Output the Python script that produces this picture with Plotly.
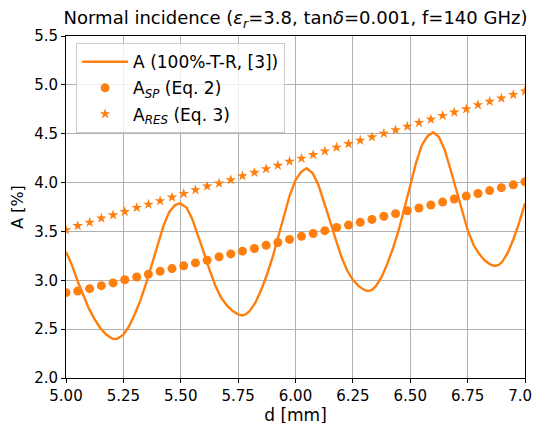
import plotly.graph_objects as go

# Oscillating absorption curve A (100%-T-R)
d_curve = [5.000, 5.025, 5.050, 5.075, 5.100, 5.125, 5.150, 5.175, 5.200, 5.212,
           5.225, 5.250, 5.275, 5.300, 5.325, 5.350, 5.375, 5.400, 5.425, 5.450,
           5.475, 5.497, 5.525, 5.550, 5.575, 5.600, 5.625, 5.650, 5.675, 5.700,
           5.725, 5.750, 5.766, 5.783, 5.800, 5.825, 5.850, 5.875, 5.900, 5.925,
           5.950, 5.975, 6.000, 6.025, 6.048, 6.075, 6.100, 6.125, 6.150, 6.175,
           6.200, 6.225, 6.250, 6.275, 6.300, 6.316, 6.333, 6.350, 6.375, 6.400,
           6.425, 6.450, 6.475, 6.500, 6.525, 6.550, 6.575, 6.600, 6.625, 6.650,
           6.675, 6.700, 6.725, 6.750, 6.775, 6.800, 6.825, 6.850, 6.868, 6.885,
           6.900, 6.925, 6.950, 6.975, 7.000]
A_curve = [3.292, 3.160, 2.995, 2.850, 2.710, 2.600, 2.510, 2.445, 2.405, 2.398,
           2.404, 2.443, 2.530, 2.655, 2.800, 2.975, 3.175, 3.380, 3.560, 3.700,
           3.770, 3.787, 3.745, 3.628, 3.468, 3.289, 3.110, 2.950, 2.826, 2.746,
           2.688, 2.652, 2.640, 2.650, 2.685, 2.771, 2.898, 3.054, 3.234, 3.446,
           3.674, 3.870, 4.025, 4.110, 4.147, 4.095, 3.975, 3.800, 3.610, 3.420,
           3.240, 3.100, 3.005, 2.940, 2.901, 2.890, 2.902, 2.939, 3.031, 3.168,
           3.330, 3.515, 3.730, 3.970, 4.200, 4.380, 4.475, 4.515, 4.467, 4.337,
           4.139, 3.925, 3.710, 3.515, 3.366, 3.270, 3.202, 3.161, 3.147, 3.158,
           3.187, 3.282, 3.423, 3.593, 3.788]

# Sample thicknesses for the analytic estimates
d_pts = [5.000, 5.051, 5.103, 5.154, 5.205, 5.256, 5.308, 5.359, 5.410, 5.462,
         5.513, 5.564, 5.615, 5.667, 5.718, 5.769, 5.821, 5.872, 5.923, 5.974,
         6.026, 6.077, 6.128, 6.179, 6.231, 6.282, 6.333, 6.385, 6.436, 6.487,
         6.538, 6.590, 6.641, 6.692, 6.744, 6.795, 6.846, 6.897, 6.949, 7.000]
A_sp = [2.873, 2.890, 2.914, 2.945, 2.973, 3.005, 3.034, 3.062, 3.092, 3.120,
        3.148, 3.178, 3.205, 3.240, 3.270, 3.298, 3.325, 3.358, 3.387, 3.418,
        3.450, 3.479, 3.508, 3.540, 3.565, 3.594, 3.623, 3.655, 3.682, 3.712,
        3.740, 3.771, 3.800, 3.832, 3.862, 3.888, 3.918, 3.948, 3.977, 4.008]
A_res = [3.514, 3.558, 3.592, 3.634, 3.668, 3.702, 3.743, 3.777, 3.812, 3.849,
         3.887, 3.925, 3.962, 3.993, 4.027, 4.068, 4.103, 4.140, 4.175, 4.216,
         4.247, 4.284, 4.322, 4.360, 4.397, 4.432, 4.466, 4.503, 4.538, 4.575,
         4.613, 4.647, 4.685, 4.719, 4.753, 4.795, 4.829, 4.863, 4.900, 4.935]

x_ticks = [5.00, 5.25, 5.50, 5.75, 6.00, 6.25, 6.50, 6.75, 7.00]
y_ticks = [2.0, 2.5, 3.0, 3.5, 4.0, 4.5, 5.0, 5.5]

ORANGE = "#ff7f0e"
FONT = "DejaVu Sans"

fig = go.Figure()
fig.add_trace(go.Scatter(
    x=d_curve, y=A_curve, mode="lines", name="A (100%-T-R, [3])",
    legendgroup="g1",
    line=dict(color=ORANGE, width=2.4, shape="linear")))
fig.add_trace(go.Scatter(
    x=d_pts, y=A_sp, mode="markers", name="A<sub><i>SP</i></sub> (Eq. 2)",
    legendgroup="g2",
    marker=dict(color=ORANGE, size=9, symbol="circle", line=dict(width=0))))
fig.add_trace(go.Scatter(
    x=d_pts, y=A_res, mode="markers", name="A<sub><i>RES</i></sub> (Eq. 3)",
    legendgroup="g3",
    marker=dict(color=ORANGE, size=8, symbol="star", line=dict(width=0))))

axis_common = dict(
    showgrid=True, gridcolor="#b0b0b0", gridwidth=1,
    showline=True, linecolor="black", linewidth=1, mirror=True,
    ticks="outside", ticklen=4, tickcolor="black", tickwidth=1,
    tickfont=dict(family=FONT, size=15, color="black"),
    zeroline=False, automargin=False, ticklabeloverflow="allow",
)

fig.update_layout(
    width=540, height=423,
    margin=dict(l=58, r=23, t=28, b=53),
    paper_bgcolor="white", plot_bgcolor="white",
    font=dict(family=FONT, color="black"),
    title=dict(
        text="Normal incidence (<i>ε</i><sub><i>r</i></sub>=3.8, tan<i>δ</i>=0.001, f=140 GHz)",
        x=0.5, xref="paper", xanchor="center",
        y=1 - 10 / 423, yref="container", yanchor="middle",
        font=dict(family=FONT, size=18, color="black")),
    xaxis=dict(range=[4.99999, 7.00001], tickvals=x_ticks, tickformat=".2f",
               title=dict(text="d [mm]", font=dict(family=FONT, size=17), standoff=4),
               **axis_common),
    yaxis=dict(range=[1.99999, 5.50001], tickvals=y_ticks, tickformat=".1f",
               title=dict(text="A [%]", font=dict(family=FONT, size=16), standoff=6),
               **axis_common),
    legend=dict(
        x=0.022, y=0.979, xanchor="left", yanchor="top",
        bgcolor="rgba(255,255,255,0.8)", bordercolor="#cccccc", borderwidth=1,
        font=dict(family=FONT, size=17, color="black"),
        itemwidth=46, tracegroupgap=1),
    showlegend=True,
)

fig.write_html("out.html")
